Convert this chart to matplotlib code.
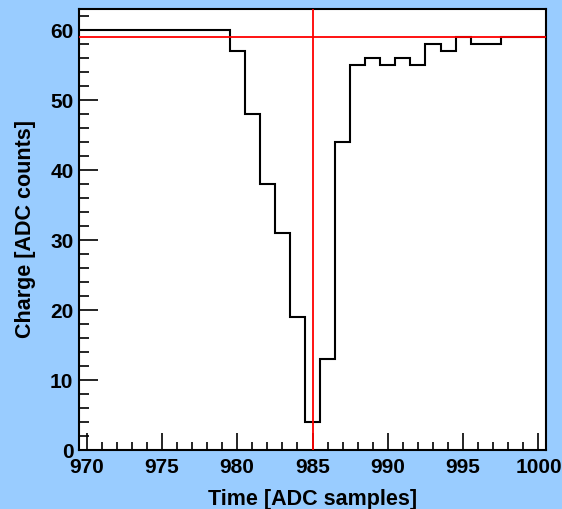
import numpy as np
import matplotlib
matplotlib.use("Agg")
import matplotlib.pyplot as plt
from matplotlib.ticker import MultipleLocator

# Data
times = list(range(970, 1001))
charge = [60, 60, 60, 60, 60, 60, 60, 60, 60, 60,
          57, 48, 38, 31, 19, 4, 13, 44, 55, 56,
          55, 56, 55, 58, 57, 59, 58, 58, 59, 59, 59]
baseline_level = 59
peak_time = 985
x_label = "Time [ADC samples]"
y_label = "Charge [ADC counts]"

plt.rcParams['font.family'] = ['Liberation Sans', 'DejaVu Sans']
plt.rcParams['font.weight'] = 'bold'

fig = plt.figure(figsize=(5.62, 5.09), dpi=100)
fig.patch.set_facecolor('#99ccff')
ax = fig.add_axes([79/562, 59/509, 467/562, 441/509])
ax.set_facecolor('white')

t = np.array(times)
edges = np.concatenate([t - 0.5, [t[-1] + 0.5]])
ax.stairs(charge, edges, baseline=None, color='black', linewidth=1.5, zorder=3)
ax.axhline(baseline_level, color='red', linewidth=1.3, zorder=4)
ax.axvline(peak_time, color='red', linewidth=1.3, zorder=4)

ax.set_xlim(edges[0], edges[-1])
ax.set_ylim(0, 63)

ax.xaxis.set_major_locator(MultipleLocator(5))
ax.xaxis.set_minor_locator(MultipleLocator(1))
ax.yaxis.set_major_locator(MultipleLocator(10))
ax.yaxis.set_minor_locator(MultipleLocator(2))

ax.tick_params(axis='both', which='both', direction='in', top=False, right=False,
               color='black', width=1.2)
ax.tick_params(axis='x', which='major', length=12, labelsize=15, pad=5.5)
ax.tick_params(axis='x', which='minor', length=6)
ax.tick_params(axis='y', which='major', length=14, labelsize=15, pad=4)
ax.tick_params(axis='y', which='minor', length=7)
for lab in ax.get_xticklabels() + ax.get_yticklabels():
    lab.set_fontweight('bold')

for s in ax.spines.values():
    s.set_linewidth(1.5)
    s.set_color('black')

ax.set_xlabel(x_label, fontsize=15.5, fontweight='bold', labelpad=9)
ax.set_ylabel(y_label, fontsize=15.5, fontweight='bold', labelpad=10)

fig.savefig('out.png', dpi=100, facecolor=fig.get_facecolor())
